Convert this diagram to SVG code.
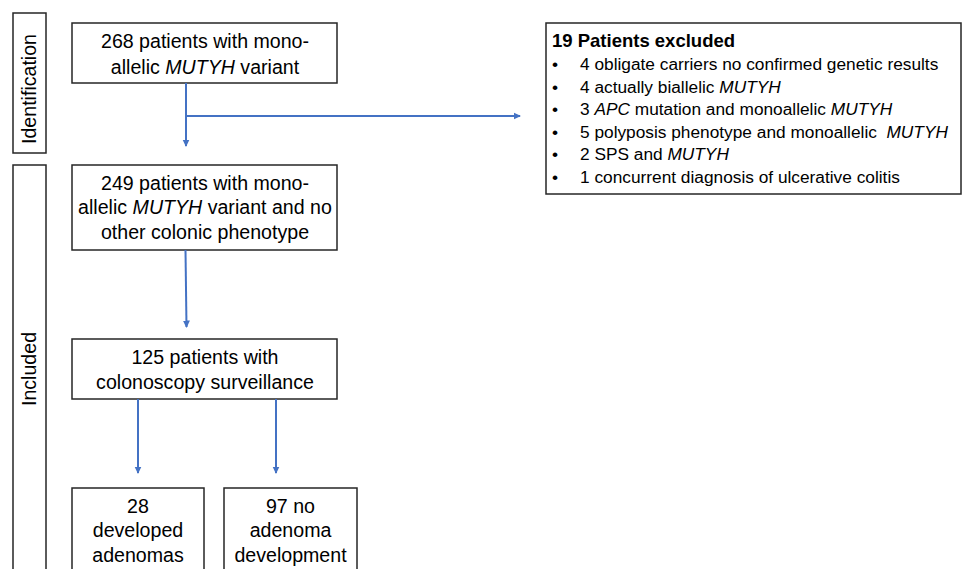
<svg xmlns="http://www.w3.org/2000/svg" width="962" height="569" viewBox="0 0 962 569">
  <defs>
    <style>
      .box { fill: #ffffff; stroke: #262626; stroke-width: 1.5; }
      .t { font-family: "Liberation Sans", Arial, sans-serif; font-size: 19.6px; fill: #000000; text-anchor: middle; }
      .l { font-family: "Liberation Sans", Arial, sans-serif; font-size: 17.3px; fill: #000000; }
      .hd { font-family: "Liberation Sans", Arial, sans-serif; font-size: 18.5px; font-weight: bold; fill: #000000; }
      .it { font-style: italic; }
      .conn { fill: none; stroke: #4472C4; stroke-width: 2; }
    </style>
    <marker id="ah" markerWidth="9" markerHeight="9" refX="6.5" refY="4.5" orient="auto" markerUnits="userSpaceOnUse">
      <path d="M0,1 L7.5,4.5 L0,8 Z" fill="#4472C4"/>
    </marker>
  </defs>
  <rect width="962" height="569" fill="#ffffff"/>

  <g id="phase-identification">
    <rect class="box" x="13" y="13" width="33" height="140"/>
    <text class="t" transform="translate(36,89) rotate(-90)">Identification</text>
  </g>

  <g id="phase-included">
    <rect class="box" x="13" y="165" width="33" height="420"/>
    <text class="t" transform="translate(36,369) rotate(-90)">Included</text>
  </g>

  <g id="node-268">
    <rect class="box" x="72" y="23" width="265" height="60"/>
    <text class="t" x="205" y="48">268 patients with mono-</text>
    <text class="t" x="205" y="74">allelic <tspan class="it">MUTYH</tspan> variant</text>
  </g>

  <g id="node-excluded">
    <rect class="box" x="546" y="23" width="415" height="171"/>
    <text class="hd" x="552" y="47">19 Patients excluded</text>
    <g class="l">
      <text x="552" y="70">•</text><text x="580" y="70">4 obligate carriers no confirmed genetic results</text>
      <text x="552" y="92.5">•</text><text x="580" y="92.5">4 actually biallelic <tspan class="it">MUTYH</tspan></text>
      <text x="552" y="115">•</text><text x="580" y="115">3 <tspan class="it">APC</tspan> mutation and monoallelic <tspan class="it">MUTYH</tspan></text>
      <text x="552" y="137.5">•</text><text x="580" y="137.5">5 polyposis phenotype and monoallelic&#160; <tspan class="it">MUTYH</tspan></text>
      <text x="552" y="160">•</text><text x="580" y="160">2 SPS and <tspan class="it">MUTYH</tspan></text>
      <text x="552" y="182.5">•</text><text x="580" y="182.5">1 concurrent diagnosis of ulcerative colitis</text>
    </g>
  </g>

  <g id="node-249">
    <rect class="box" x="72" y="165" width="265" height="85"/>
    <text class="t" x="205" y="189.5">249 patients with mono-</text>
    <text class="t" x="205" y="214">allelic <tspan class="it">MUTYH</tspan> variant and no</text>
    <text class="t" x="205" y="239">other colonic phenotype</text>
  </g>

  <g id="node-125">
    <rect class="box" x="72" y="339" width="265" height="60"/>
    <text class="t" x="205" y="364">125 patients with</text>
    <text class="t" x="205" y="388.5">colonoscopy surveillance</text>
  </g>

  <g id="node-28">
    <rect class="box" x="72" y="488" width="132" height="100"/>
    <text class="t" x="138" y="513">28</text>
    <text class="t" x="138" y="537">developed</text>
    <text class="t" x="138" y="562">adenomas</text>
  </g>

  <g id="node-97">
    <rect class="box" x="224" y="488" width="133" height="100"/>
    <text class="t" x="290.5" y="513">97 no</text>
    <text class="t" x="290.5" y="537">adenoma</text>
    <text class="t" x="290.5" y="562">development</text>
  </g>

  <g id="connectors">
    <line class="conn" x1="186" y1="83" x2="186" y2="146" marker-end="url(#ah)"/>
    <line class="conn" x1="186" y1="116" x2="520" y2="116" marker-end="url(#ah)"/>
    <line class="conn" x1="185.5" y1="250" x2="186.5" y2="327" marker-end="url(#ah)"/>
    <line class="conn" x1="138" y1="399" x2="138" y2="473" marker-end="url(#ah)"/>
    <line class="conn" x1="276" y1="399" x2="276" y2="473" marker-end="url(#ah)"/>
  </g>
</svg>
